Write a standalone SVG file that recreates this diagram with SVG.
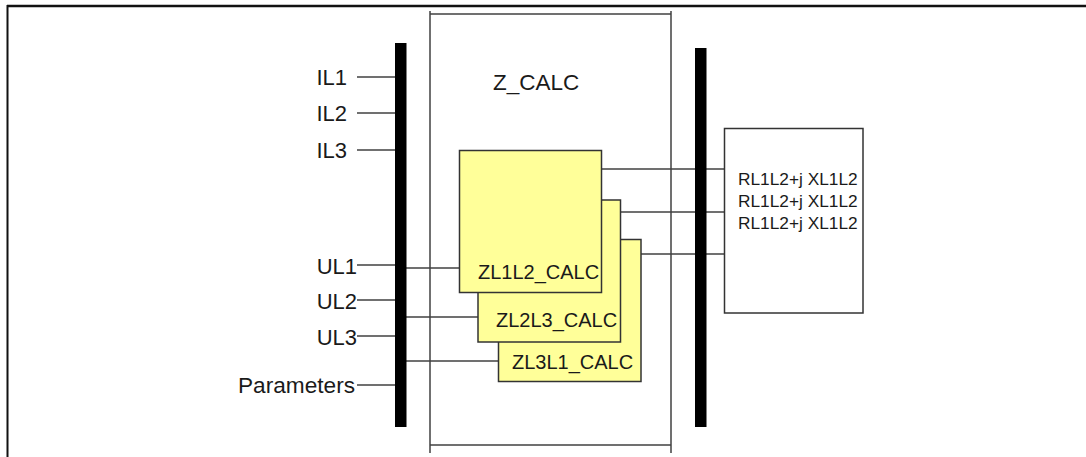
<svg xmlns="http://www.w3.org/2000/svg" width="1086" height="457" viewBox="0 0 1086 457">
<style>
text{font-family:"Liberation Sans",Arial,sans-serif;fill:#1a1a1a}
.lbl{font-size:22px}
.ln{stroke:#404040;stroke-width:1.5;fill:none}
.box{fill:#ffff99;stroke:#333;stroke-width:1.5}
.bar{fill:#000}
.wbox{fill:#fff;stroke:#333;stroke-width:1.5}
.zl{font-size:20px}
.out{font-size:17.3px}
</style>
<rect width="1086" height="457" fill="#fff"/>
<g id="frame">
<line x1="7" y1="6" x2="1086" y2="6" stroke="#111" stroke-width="2.5"/>
<line x1="7.5" y1="5" x2="7.5" y2="457" stroke="#111" stroke-width="2"/>
</g>
<g id="z_calc">
<line x1="430" y1="14" x2="671" y2="14" class="ln"/>
<line x1="430" y1="445" x2="671" y2="445" class="ln"/>
<line x1="430" y1="11" x2="430" y2="453" class="ln"/>
<line x1="671" y1="11" x2="671" y2="453" class="ln"/>
<text x="493" y="90" style="font-size:22.5px">Z_CALC</text>
</g>
<g id="connectors">
<line x1="357" y1="77" x2="396" y2="77" class="ln"/>
<line x1="357" y1="113" x2="396" y2="113" class="ln"/>
<line x1="357" y1="150" x2="396" y2="150" class="ln"/>
<line x1="357" y1="265" x2="396" y2="265" class="ln"/>
<line x1="357" y1="300" x2="396" y2="300" class="ln"/>
<line x1="357" y1="336" x2="396" y2="336" class="ln"/>
<line x1="357" y1="385" x2="396" y2="385" class="ln"/>
<line x1="406" y1="268" x2="460" y2="268" class="ln"/>
<line x1="406" y1="317" x2="478" y2="317" class="ln"/>
<line x1="406" y1="361" x2="498" y2="361" class="ln"/>
<line x1="601" y1="169" x2="725" y2="169" class="ln"/>
<line x1="621" y1="212" x2="725" y2="212" class="ln"/>
<line x1="641" y1="254" x2="725" y2="254" class="ln"/>
</g>
<g id="inputs">
<text class="lbl" x="347" y="85" text-anchor="end">IL1</text>
<text class="lbl" x="347" y="121" text-anchor="end">IL2</text>
<text class="lbl" x="347" y="158" text-anchor="end">IL3</text>
<text class="lbl" x="357" y="274" text-anchor="end">UL1</text>
<text class="lbl" x="357" y="309" text-anchor="end">UL2</text>
<text class="lbl" x="357" y="345" text-anchor="end">UL3</text>
<text class="lbl" x="355" y="393" text-anchor="end" textLength="117" lengthAdjust="spacingAndGlyphs">Parameters</text>
</g>
<g id="bus_left"><rect class="bar" x="395" y="43" width="11.5" height="384"/></g>
<g id="bus_right"><rect class="bar" x="695" y="48" width="11.5" height="379"/></g>
<g id="zl3l1">
<rect class="box" x="498.5" y="239.5" width="142.5" height="142"/>
<text class="zl" x="512" y="369">ZL3L1_CALC</text>
</g>
<g id="zl2l3">
<rect class="box" x="478" y="200" width="142.5" height="142"/>
<text class="zl" x="496" y="327">ZL2L3_CALC</text>
</g>
<g id="zl1l2">
<rect class="box" x="459.5" y="150.5" width="142" height="142"/>
<text class="zl" x="478" y="279">ZL1L2_CALC</text>
</g>
<g id="output">
<rect class="wbox" x="724.5" y="128.5" width="138.5" height="184.5"/>
<text class="out" x="738" y="185">RL1L2+j XL1L2</text>
<text class="out" x="738" y="207">RL1L2+j XL1L2</text>
<text class="out" x="738" y="229">RL1L2+j XL1L2</text>
</g>
</svg>
